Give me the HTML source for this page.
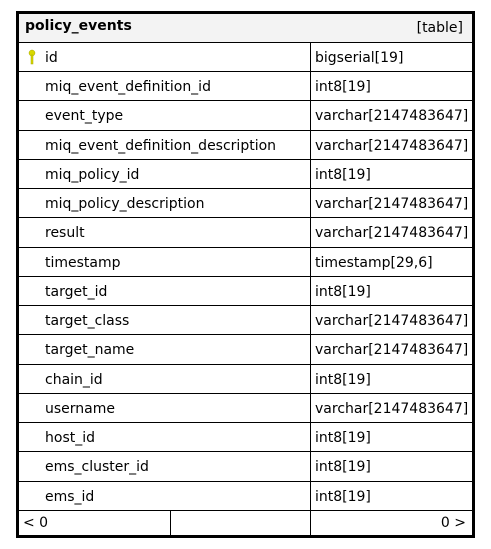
<!DOCTYPE html>
<html><head><style>
html,body{margin:0;padding:0;background:#fff;width:491px;height:549px;overflow:hidden}
text{font-family:"DejaVu Sans","Liberation Sans",sans-serif;font-size:14px;fill:#000}
</style></head><body>
<svg width="491" height="549" xmlns="http://www.w3.org/2000/svg">
<rect x="17.5" y="12.5" width="456" height="524" fill="#fff" stroke="#000" stroke-width="3"/>
<rect x="19" y="14" width="453" height="28" fill="#f3f3f3"/>
<line x1="19" y1="42.5" x2="472" y2="42.5" stroke="#000"/>
<text x="25" y="30" font-weight="bold">policy_events</text>
<text x="463" y="32" text-anchor="end">[table]</text>
<g stroke="#000" stroke-width="1">
<line x1="310.5" y1="42" x2="310.5" y2="536"/>
<line x1="170.5" y1="510" x2="170.5" y2="536"/>
</g>
<g id="rows"></g>
<g stroke="#000">
<line x1="19" y1="71.5" x2="472" y2="71.5"/>
<line x1="19" y1="100.5" x2="472" y2="100.5"/>
<line x1="19" y1="130.5" x2="472" y2="130.5"/>
<line x1="19" y1="159.5" x2="472" y2="159.5"/>
<line x1="19" y1="188.5" x2="472" y2="188.5"/>
<line x1="19" y1="217.5" x2="472" y2="217.5"/>
<line x1="19" y1="247.5" x2="472" y2="247.5"/>
<line x1="19" y1="276.5" x2="472" y2="276.5"/>
<line x1="19" y1="305.5" x2="472" y2="305.5"/>
<line x1="19" y1="334.5" x2="472" y2="334.5"/>
<line x1="19" y1="364.5" x2="472" y2="364.5"/>
<line x1="19" y1="393.5" x2="472" y2="393.5"/>
<line x1="19" y1="422.5" x2="472" y2="422.5"/>
<line x1="19" y1="451.5" x2="472" y2="451.5"/>
<line x1="19" y1="481.5" x2="472" y2="481.5"/>
<line x1="19" y1="510.5" x2="472" y2="510.5"/>
</g>
<g fill="#d8d800" stroke="#a8a800" stroke-width="0.5">
<circle cx="32" cy="53" r="3"/>
<rect x="31" y="55" width="2" height="9"/>
</g>
<g>
<text x="45" y="62">id</text><text x="315" y="62">bigserial[19]</text>
<text x="45" y="91">miq_event_definition_id</text><text x="315" y="91">int8[19]</text>
<text x="45" y="120">event_type</text><text x="315" y="120">varchar[2147483647]</text>
<text x="45" y="150">miq_event_definition_description</text><text x="315" y="150">varchar[2147483647]</text>
<text x="45" y="179">miq_policy_id</text><text x="315" y="179">int8[19]</text>
<text x="45" y="208">miq_policy_description</text><text x="315" y="208">varchar[2147483647]</text>
<text x="45" y="237">result</text><text x="315" y="237">varchar[2147483647]</text>
<text x="45" y="267">timestamp</text><text x="315" y="267">timestamp[29,6]</text>
<text x="45" y="296">target_id</text><text x="315" y="296">int8[19]</text>
<text x="45" y="325">target_class</text><text x="315" y="325">varchar[2147483647]</text>
<text x="45" y="354">target_name</text><text x="315" y="354">varchar[2147483647]</text>
<text x="45" y="384">chain_id</text><text x="315" y="384">int8[19]</text>
<text x="45" y="413">username</text><text x="315" y="413">varchar[2147483647]</text>
<text x="45" y="442">host_id</text><text x="315" y="442">int8[19]</text>
<text x="45" y="471">ems_cluster_id</text><text x="315" y="471">int8[19]</text>
<text x="45" y="501">ems_id</text><text x="315" y="501">int8[19]</text>
<text x="23" y="527">&lt; 0</text>
<text x="466" y="527" text-anchor="end">0 &gt;</text>
</g>
</svg>
</body></html>
